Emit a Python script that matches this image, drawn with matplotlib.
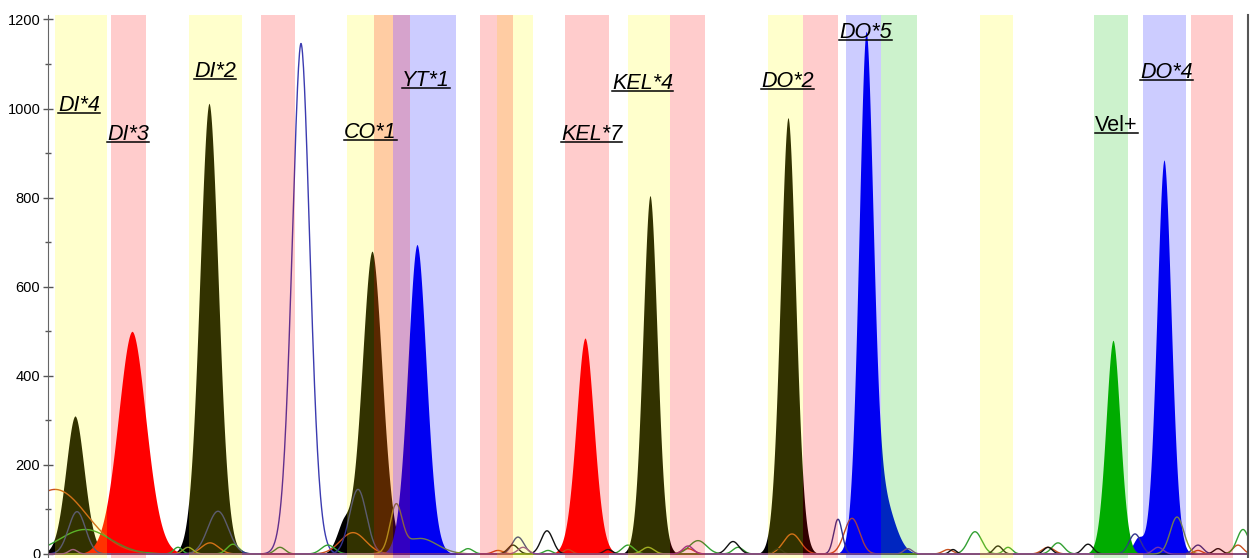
import numpy as np
import matplotlib
matplotlib.use("Agg")
import matplotlib.pyplot as plt
from matplotlib.lines import Line2D
from matplotlib.transforms import IdentityTransform

plt.rcParams["font.family"] = ["Liberation Sans", "DejaVu Sans"]

# run position axis (arbitrary units, no labels on the chart)
x = np.arange(0, 1200.5, 0.5)

# called peaks per dye: centre, height (RFU), width at half height
black_c = [27, 161, 295, 324, 602, 740]
black_h = [310, 1012, 60, 680, 805, 980]
black_w = [22, 22, 16, 24, 17, 18]

red_c = [84, 537]
red_h = [500, 485]
red_w = [33, 21]

blue_c = [369, 818, 837, 1090, 1116]
blue_h = [695, 1152, 110, 35, 885]
blue_w = [22, 17, 24, 12, 17]

green_c = [1065]
green_h = [480]
green_w = [17]

# size standard peak drawn as an open line
std_c = [253]
std_h = [1146]
std_w = [21]

# baseline / pull-up traces
brown_c = [7, 162, 305, 450, 520, 640, 744, 804, 900, 1000, 1150, 1190]
brown_h = [145, 25, 48, 8, 10, 12, 45, 80, 10, 15, 8, 20]
brown_w = [75, 20, 30, 12, 10, 14, 20, 18, 12, 14, 10, 12]

lgreen_c = [37, 130, 185, 232, 280, 420, 500, 580, 650, 690, 927, 960, 1010, 1195]
lgreen_h = [55, 15, 22, 15, 20, 12, 8, 20, 30, 15, 50, 15, 25, 55]
lgreen_w = [60, 10, 14, 12, 16, 12, 10, 14, 20, 12, 16, 10, 14, 14]

navy_c = [29, 170, 310, 470, 790, 1087, 1150]
navy_h = [95, 96, 145, 38, 78, 45, 20]
navy_w = [20, 24, 20, 14, 10, 14, 12]

lblack_c = [465, 499, 560, 685, 730, 905, 950, 1000, 1040, 1170]
lblack_h = [20, 52, 10, 28, 12, 10, 18, 15, 22, 12]
lblack_w = [12, 14, 10, 14, 10, 8, 10, 10, 12, 10]

olive_c = [140, 348, 372, 600, 1129]
olive_h = [15, 100, 35, 15, 83]
olive_w = [12, 14, 40, 14, 16]

purple_c = [25, 475, 640, 860, 1110]
purple_h = [10, 15, 18, 12, 15]
purple_w = [10, 12, 12, 10, 12]

# allele bins: start, end
yellow_bins = [(7, 59), (141, 194), (299, 345), (449, 485), (580, 622), (720, 755), (932, 965)]
blue_bins = [(345, 408), (798, 833), (1095, 1138)]
green_bins = [(833, 869), (1046, 1080)]
red_bins = [(63, 98), (213, 247), (326, 362), (432, 465), (517, 561), (622, 657), (755, 790), (1143, 1185)]

labels = ["DI*4", "DI*3", "DI*2", "CO*1", "YT*1", "KEL*7", "KEL*4", "DO*2", "DO*5", "Vel+", "DO*4"]
label_x = [10, 59, 146, 296, 354, 513, 564, 713, 791, 1047, 1092]
label_y = [995, 929, 1071, 934, 1050, 929, 1043, 1049, 1159, 950, 1069]


def trace(cs, hs, ws, p=2.0):
    y = np.zeros_like(x)
    for c, h, w in zip(cs, hs, ws):
        y += h * np.exp(-np.log(2) * np.abs(2 * (x - c) / w) ** p)
    return y


fig = plt.figure(figsize=(12.59, 5.58), dpi=100)
ax = fig.add_axes([48 / 1259, 0, 1200 / 1259, 543 / 558])

# filled peaks (slightly pointed tops)
ax.fill_between(x, 0, trace(black_c, black_h, black_w, 1.85), color="black", lw=0)
ax.fill_between(x, 0, trace(red_c, red_h, red_w, 1.85), color="#ff0000", lw=0)
ax.fill_between(x, 0, trace(blue_c, blue_h, blue_w, 1.85), color="#0000f0", lw=0)
ax.fill_between(x, 0, trace(green_c, green_h, green_w, 1.85), color="#00a800", lw=0)

# thin traces
ax.plot(x, trace(std_c, std_h, std_w, 1.85), color="#3b3bb0", lw=1)
ax.plot(x, trace(brown_c, brown_h, brown_w), color="#c8501e", lw=1)
ax.plot(x, trace(lgreen_c, lgreen_h, lgreen_w), color="#33a033", lw=1)
ax.plot(x, trace(navy_c, navy_h, navy_w), color="#34348c", lw=1)
ax.plot(x, trace(lblack_c, lblack_h, lblack_w), color="#111111", lw=1)
ax.plot(x, trace(olive_c, olive_h, olive_w), color="#8c9a2a", lw=1)
ax.plot(x, trace(purple_c, purple_h, purple_w), color="#9040a0", lw=1)

# bins laid over the traces
for a, b in yellow_bins:
    ax.axvspan(a, b, color="#ffff00", alpha=0.2, lw=0, zorder=5)
for a, b in blue_bins:
    ax.axvspan(a, b, color="#0000ff", alpha=0.2, lw=0, zorder=5)
for a, b in green_bins:
    ax.axvspan(a, b, color="#00c000", alpha=0.2, lw=0, zorder=5)
for a, b in red_bins:
    ax.axvspan(a, b, color="#ff0000", alpha=0.2, lw=0, zorder=5)

texts = []
for lab, lx, ly in zip(labels, label_x, label_y):
    st = "normal" if lab == "Vel+" else "italic"
    t = ax.text(lx, ly, lab, fontsize=15.5, style=st, ha="left", va="baseline", zorder=10)
    texts.append(t)

ax.set_xlim(0, 1200)
ax.set_ylim(-9, 1210)
ax.set_xticks([])
ax.set_yticks(range(0, 1201, 200))
ax.set_yticks(range(100, 1200, 200), minor=True)
ax.tick_params(axis="y", which="major", direction="inout", length=7, width=1,
               color="#555555", labelsize=10.5, pad=2)
ax.tick_params(axis="y", which="minor", direction="inout", length=5, width=1, color="#555555")
ax.spines["top"].set_visible(False)
ax.spines["bottom"].set_visible(False)
ax.spines["left"].set_color("#666666")
ax.spines["right"].set_color("#555555")
ax.spines["right"].set_linewidth(1.5)

# underline the allele names
fig.canvas.draw()
r = fig.canvas.get_renderer()
for t in texts:
    bb = t.get_window_extent(r)
    yb = ax.transData.transform(t.get_position())[1] - 2
    fig.add_artist(Line2D([bb.x0, bb.x1], [yb, yb], transform=IdentityTransform(),
                          color="black", lw=1.1))

fig.savefig("out.png", dpi=100)
